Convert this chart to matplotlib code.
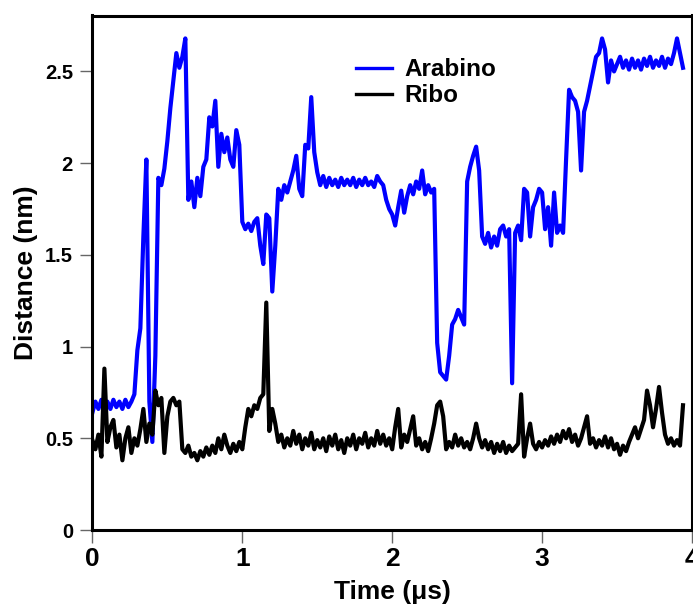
import numpy as np
import matplotlib
matplotlib.use("Agg")
import matplotlib.pyplot as plt

plt.rcParams['font.family'] = ['Liberation Sans', 'DejaVu Sans']
plt.rcParams['font.weight'] = 'bold'

# sampling step of both trajectories (microseconds)
dt = 0.02

arabino = [
    0.64, 0.70, 0.66, 0.71, 0.67, 0.70, 0.66, 0.71, 0.67, 0.70,
    0.66, 0.71, 0.67, 0.70, 0.74, 0.98, 1.10, 1.60, 2.02, 0.70,
    0.48, 0.95, 1.92, 1.88, 1.97, 2.12, 2.30, 2.45, 2.60, 2.52,
    2.58, 2.68, 1.80, 1.90, 1.76, 1.92, 1.82, 1.98, 2.02, 2.25,
    2.20, 2.34, 1.98, 2.16, 2.06, 2.14, 2.02, 1.98, 2.18, 2.10,
    1.68, 1.64, 1.67, 1.63, 1.68, 1.70, 1.55, 1.45, 1.72, 1.70,
    1.30, 1.55, 1.86, 1.80, 1.88, 1.84, 1.90, 1.96, 2.04, 1.86,
    1.82, 2.10, 2.08, 2.36, 2.06, 1.95, 1.88, 1.93, 1.87, 1.92,
    1.88, 1.91, 1.87, 1.92, 1.88, 1.91, 1.88, 1.92, 1.87, 1.91,
    1.88, 1.92, 1.88, 1.90, 1.87, 1.93, 1.90, 1.88, 1.80, 1.75,
    1.72, 1.66, 1.76, 1.85, 1.73, 1.82, 1.88, 1.83, 1.90, 1.86,
    1.96, 1.83, 1.88, 1.84, 1.86, 1.02, 0.86, 0.84, 0.82, 0.95,
    1.12, 1.15, 1.20, 1.16, 1.12, 1.90, 1.98, 2.04, 2.09, 1.96,
    1.60, 1.56, 1.62, 1.54, 1.60, 1.55, 1.64, 1.66, 1.60, 1.64,
    0.80, 1.62, 1.66, 1.58, 1.86, 1.84, 1.60, 1.76, 1.80, 1.86,
    1.84, 1.64, 1.76, 1.55, 1.84, 1.62, 1.66, 1.62, 2.02, 2.40,
    2.36, 2.34, 2.28, 1.96, 2.28, 2.34, 2.42, 2.50, 2.58, 2.60,
    2.68, 2.62, 2.44, 2.56, 2.50, 2.54, 2.58, 2.52, 2.56, 2.51,
    2.57, 2.52, 2.56, 2.51, 2.57, 2.53, 2.58, 2.52, 2.56, 2.53,
    2.58, 2.52, 2.57, 2.54, 2.60, 2.68, 2.60, 2.52,
]

ribo = [
    0.49, 0.44, 0.52, 0.40, 0.88, 0.48, 0.56, 0.60, 0.45, 0.52,
    0.38, 0.50, 0.56, 0.42, 0.50, 0.46, 0.55, 0.66, 0.48, 0.58,
    0.52, 0.76, 0.68, 0.72, 0.42, 0.62, 0.70, 0.72, 0.68, 0.70,
    0.44, 0.42, 0.46, 0.40, 0.42, 0.38, 0.43, 0.40, 0.45, 0.41,
    0.46, 0.42, 0.50, 0.44, 0.52, 0.46, 0.42, 0.47, 0.43, 0.48,
    0.44, 0.56, 0.66, 0.62, 0.68, 0.66, 0.72, 0.74, 1.24, 0.54,
    0.66, 0.58, 0.48, 0.52, 0.45, 0.50, 0.46, 0.54, 0.47, 0.52,
    0.44, 0.50, 0.46, 0.53, 0.44, 0.49, 0.45, 0.50, 0.43, 0.51,
    0.46, 0.52, 0.44, 0.49, 0.42, 0.50, 0.46, 0.52, 0.44, 0.50,
    0.47, 0.53, 0.45, 0.50, 0.46, 0.54, 0.47, 0.52, 0.46, 0.50,
    0.44, 0.56, 0.66, 0.45, 0.52, 0.48, 0.55, 0.62, 0.46, 0.50,
    0.44, 0.48, 0.43, 0.50, 0.58, 0.68, 0.70, 0.62, 0.44, 0.48,
    0.45, 0.52, 0.46, 0.50, 0.45, 0.48, 0.44, 0.50, 0.58, 0.50,
    0.45, 0.49, 0.44, 0.48, 0.42, 0.47, 0.43, 0.48, 0.42, 0.46,
    0.43, 0.45, 0.47, 0.74, 0.40, 0.50, 0.58, 0.47, 0.44, 0.48,
    0.45, 0.49, 0.46, 0.51, 0.47, 0.52, 0.48, 0.54, 0.50, 0.55,
    0.48, 0.52, 0.46, 0.50, 0.56, 0.62, 0.47, 0.50, 0.45, 0.49,
    0.46, 0.51, 0.45, 0.50, 0.44, 0.47, 0.41, 0.46, 0.43, 0.48,
    0.52, 0.56, 0.50, 0.55, 0.60, 0.76, 0.68, 0.56, 0.66, 0.78,
    0.64, 0.52, 0.47, 0.50, 0.46, 0.49, 0.46, 0.68,
]

x_ticks = [0, 1, 2, 3, 4]
y_ticks = [0, 0.5, 1, 1.5, 2, 2.5]
y_tick_labels = ["0", "0.5", "1", "1.5", "2", "2.5"]

t_arabino = np.arange(len(arabino)) * dt
t_ribo = np.arange(len(ribo)) * dt

fig = plt.figure(figsize=(6.93, 6.04), dpi=100)
ax = fig.add_axes([92.4 / 693, 74 / 604, 599.6 / 693, 514.5 / 604])

ax.plot(t_arabino, arabino, color="#0000ff", lw=3.0, label="Arabino")
ax.plot(t_ribo, ribo, color="black", lw=3.0, label="Ribo")

ax.set_xlim(0, 4)
ax.set_ylim(0, 2.805)
ax.set_xticks(x_ticks)
ax.set_xticklabels([str(v) for v in x_ticks])
ax.set_yticks(y_ticks)
ax.set_yticklabels(y_tick_labels)

for side in ["left", "bottom", "right", "top"]:
    ax.spines[side].set_linewidth(2.2)
    ax.spines[side].set_color("black")

ax.tick_params(axis="both", direction="out", length=9, width=1.0,
               color="#666666")
ax.tick_params(axis="x", labelsize=19, pad=3)
ax.tick_params(axis="y", labelsize=14.5, pad=5)
for lab in ax.get_xticklabels() + ax.get_yticklabels():
    lab.set_fontweight("bold")

ax.set_xlabel("Time (\u03bcs)", fontsize=19, fontweight="bold", labelpad=7)
ax.set_ylabel("Distance (nm)", fontsize=19, fontweight="bold", labelpad=5)

leg = ax.legend(loc="upper left", bbox_to_anchor=(0.4396, 0.917), frameon=False,
                fontsize=17.5, handlelength=1.48, handletextpad=0.52,
                labelspacing=0.12, borderpad=0.0, borderaxespad=0.0)
for line in leg.get_lines():
    line.set_linewidth(2.4)
for txt in leg.get_texts():
    txt.set_fontweight("bold")

fig.savefig("out.png", dpi=100)
